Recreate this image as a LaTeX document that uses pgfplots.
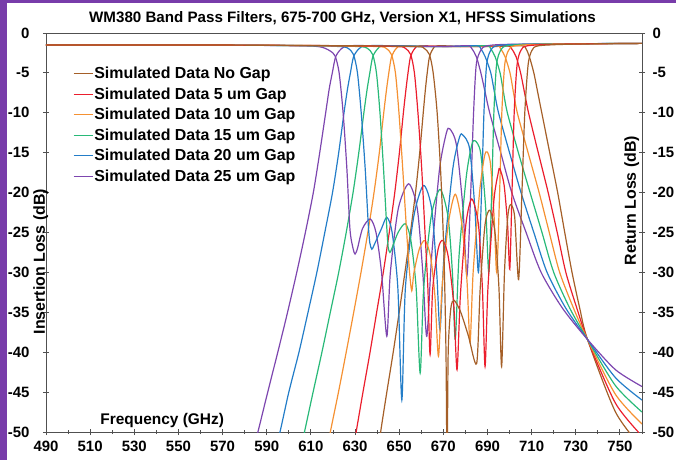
\documentclass[border=0pt]{standalone}
\usepackage{fontspec}
\setmainfont{Liberation Sans}
\usepackage{pgfplots}
\pgfplotsset{compat=1.18}
\definecolor{cBrown}{RGB}{165,95,40}
\definecolor{cRed}{RGB}{235,30,45}
\definecolor{cOrange}{RGB}{245,145,50}
\definecolor{cGreen}{RGB}{40,185,120}
\definecolor{cBlue}{RGB}{35,125,200}
\definecolor{cPurple}{RGB}{125,70,175}
\definecolor{cFrame}{RGB}{120,60,170}
\definecolor{cAxis}{RGB}{80,80,80}
\pgfplotsset{
  common/.style={
    at={(0bp,0bp)}, anchor=south west, scale only axis,
    width=596bp, height=399bp,
    xmin=490, xmax=760, ymin=-50, ymax=0,
    axis line style={draw=cAxis, line width=0.9bp},
    tick style={draw=cAxis, line width=0.9bp},
    major tick length=6bp, minor tick length=4bp, tick align=center,
    ticklabel style={font=\fontsize{15}{16}\selectfont\bfseries},
    /pgf/number format/assume math mode=true,
    ytick={-50,-45,...,0},
  },
  curve/.style={line width=1.2bp, smooth, tension=0.45, mark=none},
}
\begin{document}
\begin{tikzpicture}
\begin{axis}[common,
  xtick={490,510,...,750}, minor xtick={500,520,...,760},
  xtick pos=bottom, ytick pos=left,
  xticklabel style={yshift=-3bp},
  yticklabel style={xshift=-10bp},
  xlabel={Frequency (GHz)},
  xlabel style={font=\fontsize{15.5}{16}\selectfont\bfseries, at={(axis description cs:0.195,0.03)}, anchor=center},
  ylabel={Insertion Loss (dB)},
  ylabel style={font=\fontsize{16}{17}\selectfont\bfseries, at={(axis description cs:-0.009,0.427)}, anchor=center},
  clip=true,
  legend cell align=left,
  legend style={at={(axis description cs:0.045,0.9175)}, anchor=north west, draw=none, fill=none,
    font=\fontsize{16}{18}\selectfont\bfseries, row sep=5.5bp, inner sep=0pt, nodes={inner sep=1bp}},
  legend image code/.code={\draw[#1, line width=1.3bp] (0bp,0bp) -- (19bp,0bp);},
]
% ---------- Insertion loss (S21) ----------
\addplot[curve, cBrown] coordinates {(639.2,-55) (641.6,-50) (644.4,-45) (647.3,-40) (650,-35) (652.6,-30) (655.1,-25) (657.4,-20) (659.3,-15) (660.9,-10) (661.9,-7) (662.7,-5) (663.7,-3) (665.3,-2) (667.5,-1.6) (680,-1.7) (692,-1.7) (705.5,-1.6) (707.5,-2) (709,-3) (711,-5) (712.8,-7.5) (714.6,-10) (718.2,-15) (721.8,-20) (725,-25) (728.3,-30) (731.8,-34.5) (735.3,-38.4) (748,-47.5) (760,-52)};
\addlegendentry{Simulated Data No Gap}
\addplot[curve, cRed] coordinates {(627.4,-55) (630.5,-50) (633.6,-45) (636.8,-40) (639.8,-35) (642.8,-30) (645.5,-25) (648,-20) (650.1,-15) (651.9,-10) (653.1,-7) (654,-5) (655.1,-3) (656.9,-2) (659.4,-1.6) (672,-1.7) (687,-1.7) (699,-1.6) (701,-2) (703,-3) (705,-5) (706.8,-7.5) (708.6,-10) (713,-15) (717.5,-20) (721.6,-25) (725.5,-30) (730.5,-34.5) (735.3,-38.4) (748,-46.4) (760,-50.5)};
\addlegendentry{Simulated Data 5 um Gap}
\addplot[curve, cOrange] coordinates {(615.2,-55) (618.8,-50) (622.5,-45) (626,-40) (629.4,-35) (632.7,-30) (635.8,-25) (638.6,-20) (641,-15) (643,-10) (644.3,-7) (645.3,-5) (646.5,-3) (648.5,-2) (651.3,-1.6) (665,-1.7) (680,-1.7) (694,-1.6) (696,-2) (698,-3) (700.2,-5) (701.8,-7.5) (703.5,-10) (708.4,-15) (713.4,-20) (718,-25) (722.7,-30) (729,-34.5) (735.3,-38.4) (748,-45.3) (760,-49)};
\addlegendentry{Simulated Data 10 um Gap}
\addplot[curve, cGreen] coordinates {(603.2,-55) (607.1,-50) (611,-45) (615,-40) (618.8,-35) (622.6,-30) (626,-25) (629.1,-20) (631.7,-15) (634,-10) (635.5,-7) (636.7,-5) (638,-3) (640.2,-2) (643.2,-1.6) (660,-1.7) (675,-1.7) (689.5,-1.6) (691.5,-2) (693.5,-3) (695.7,-5) (697.3,-7.5) (699,-10) (704,-15) (709.3,-20) (714.7,-25) (720,-30) (727.3,-34.5) (735.3,-38.4) (748,-44.2) (760,-47.5)};
\addlegendentry{Simulated Data 15 um Gap}
\addplot[curve, cBlue] coordinates {(591.5,-55) (596,-50) (600,-45) (604.6,-40) (608.7,-35) (612.7,-30) (616.3,-25) (619.8,-20) (622.6,-15) (625,-10) (626.6,-7) (627.9,-5) (629.3,-3) (631.7,-2) (635,-1.6) (650,-1.6) (670,-1.7) (685,-1.6) (687,-2) (689,-3) (691.5,-5) (693.2,-7.5) (695,-10) (700,-15) (705.2,-20) (711,-25) (717,-30) (725.5,-34.5) (735.3,-38.4) (748,-43.2) (760,-46)};
\addlegendentry{Simulated Data 20 um Gap}
\addplot[curve, cPurple] coordinates {(581.3,-55) (586,-50) (590,-45.5) (595,-40) (599,-35.5) (603.6,-30) (607.5,-25) (611.1,-20) (614,-15) (616.7,-10) (618.3,-7) (619.7,-5) (621.2,-3) (623.7,-2) (627.2,-1.6) (640,-1.6) (655,-1.7) (670,-1.7) (681,-1.6) (683,-2) (685,-3) (687,-5) (689,-7.5) (691,-10) (696,-15) (701,-20) (707.5,-25) (714.3,-30) (724,-34.5) (735.3,-38.4) (748,-42.2) (760,-44.3)};
\addlegendentry{Simulated Data 25 um Gap}
% ---------- Return loss (S11) ----------
\addplot[curve, cPurple, forget plot] coordinates {(490,-1.5) (560,-1.5) (605,-1.6) (613.3,-1.7) (616.3,-1.9) (619,-2.3) (621,-2.9) (622.8,-5) (624.6,-10) (626.3,-17) (627.7,-24.6) (629.1,-27) (630,-27.7) (631.1,-27) (633.4,-24.5) (636.9,-23.3) (639.5,-25) (642,-30) (644.4,-38) (646,-30) (649.6,-22) (654.3,-18.9) (658.2,-22) (660.7,-30) (662.5,-38) (664.7,-28) (668.3,-17) (671.4,-12.5) (672.9,-12) (675.9,-14) (678.9,-22) (680.7,-30.4) (682.4,-20) (683.7,-10) (684.9,-4) (686.9,-2.2) (689.9,-1.6) (703,-1.4) (760,-1.3)};
\addplot[curve, cBlue, forget plot] coordinates {(490,-1.5) (560,-1.5) (610,-1.6) (623.3,-1.7) (626.8,-1.9) (629.3,-2.7) (631.1,-5) (632.8,-10) (634.6,-17) (636,-24) (636.7,-26.3) (637.6,-27.1) (638.6,-26.6) (642,-24.5) (644.4,-23.1) (646.8,-25) (649.4,-32) (651.2,-46) (652.8,-32) (656.6,-23) (661,-19.1) (664.7,-22) (667,-30) (668.5,-37.2) (670.3,-28) (674.3,-17) (677.4,-13) (678.9,-12.8) (681.9,-14.5) (684.3,-22) (685.9,-30) (687.3,-20) (688.4,-10) (689.6,-4) (691.4,-2.2) (694.4,-1.6) (708,-1.4) (760,-1.3)};
\addplot[curve, cGreen, forget plot] coordinates {(490,-1.5) (560,-1.5) (615,-1.6) (631.8,-1.7) (635.5,-1.9) (638,-2.7) (639.7,-5) (641.3,-10) (642.9,-17) (644.3,-24) (645,-26.8) (645.8,-27.5) (646.7,-27) (649.5,-25) (652.8,-23.9) (655.3,-26) (657.7,-32) (659.5,-42.6) (661.1,-32) (664.5,-23) (668.5,-19.6) (672.1,-23) (674.1,-30) (675.4,-38.4) (677.1,-28) (680.4,-18) (682.9,-14) (684.4,-13.5) (686.9,-15) (689.2,-22) (690.6,-30) (691.9,-20) (692.9,-10) (694.1,-4) (695.9,-2.2) (698.9,-1.6) (713,-1.4) (760,-1.3)};
\addplot[curve, cOrange, forget plot] coordinates {(490,-1.5) (560,-1.5) (620,-1.6) (640.4,-1.7) (644,-1.9) (646.5,-2.7) (648.3,-5) (649.9,-10) (651.6,-17) (653.4,-25) (654.7,-30) (655.7,-32.3) (656.7,-30) (659.2,-27) (661.7,-26) (664.2,-28) (666.2,-33) (667.8,-40.5) (669.4,-32) (672.2,-24) (675.4,-20.2) (678.4,-24) (680.7,-31) (682.1,-38.8) (683.5,-30) (686.4,-20) (688.6,-15.5) (689.9,-14.9) (691.4,-16.5) (693,-23) (694.2,-30) (695.5,-20) (696.5,-10) (697.8,-4) (699.5,-2.2) (702.5,-1.6) (717,-1.4) (760,-1.3)};
\addplot[curve, cRed, forget plot] coordinates {(490,-1.5) (560,-1.5) (625,-1.6) (649.1,-1.7) (652.7,-1.9) (655.2,-2.7) (656.9,-5) (658.5,-10) (660.2,-17) (661.7,-25) (663,-32) (664,-40.3) (665.2,-32) (667.7,-27) (669.8,-26) (672.2,-28) (674.7,-34) (676.2,-42.2) (677.7,-33) (680.2,-24) (682.9,-20.8) (685.9,-24) (687.7,-32) (688.9,-41.8) (690.2,-32) (692.9,-21) (694.9,-17.5) (695.6,-17) (697.5,-19) (699.1,-24) (700.1,-29.6) (701.1,-20) (702.1,-10) (703.4,-4) (705.1,-2.2) (708.1,-1.6) (723,-1.4) (760,-1.3)};
\addplot[curve, cBrown, forget plot] coordinates {(490,-1.5) (560,-1.5) (630,-1.6) (657.7,-1.7) (661.2,-1.9) (663.7,-2.7) (665.4,-5) (667.2,-10) (668.9,-18) (670.3,-28) (671.2,-40) (671.7,-55) (672.2,-40) (673.4,-34.5) (674.9,-33.5) (677.9,-35) (681.4,-38) (685.1,-41.4) (686.7,-32) (688.9,-24) (691.1,-22.2) (693.4,-25) (695.2,-32) (696.4,-41.8) (697.7,-30) (699.2,-23) (700.5,-21.5) (702.3,-23) (704.1,-30.9) (705.6,-20) (706.9,-10) (708.4,-4) (710.1,-2.2) (713.1,-1.6) (728,-1.4) (760,-1.3)};
\end{axis}
\begin{axis}[common,
  axis x line=none, axis y line*=right,
  yticklabel style={xshift=4bp, anchor=west},
  ylabel={Return Loss (dB)},
  ylabel style={font=\fontsize{16}{17}\selectfont\bfseries, at={(axis description cs:0.983,0.58)}, anchor=center},
]
\addplot[draw=none, forget plot] coordinates {(490,0) (760,-50)};
\end{axis}
\pgfresetboundingbox
\path[use as bounding box] (-46bp,-28bp) rectangle (630bp,432bp);
\fill[cFrame] (-46bp,-28bp) rectangle (-39bp,432bp);
\fill[cFrame] (-46bp,428.5bp) rectangle (630bp,432bp);
\node[font=\fontsize{15.2}{16}\selectfont\bfseries] at (296.5bp,414bp) {WM380 Band Pass Filters, 675-700 GHz, Version X1, HFSS Simulations};
\end{tikzpicture}
\end{document}
